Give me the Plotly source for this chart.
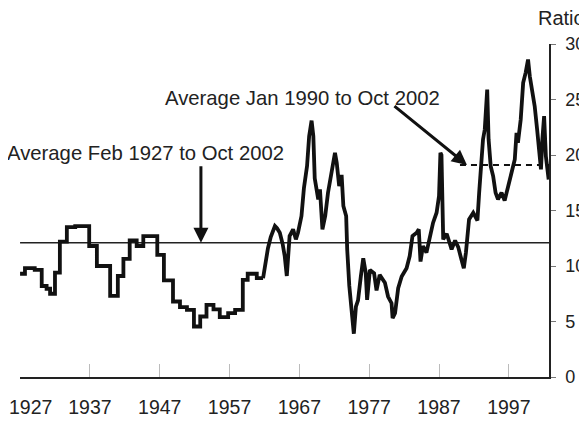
import plotly.graph_objects as go

# Early (stepped) segment: year, ratio
step_years = [1927.0, 1927.7, 1929.1, 1930.1, 1930.8, 1931.3, 1932.0, 1932.7, 1933.7, 1934.9,
              1936.9, 1938.0, 1939.9, 1941.0, 1941.8, 1942.7, 1943.7, 1944.65, 1946.65, 1947.6,
              1948.9, 1949.9, 1950.9, 1951.9, 1952.8, 1953.7, 1954.7, 1955.6, 1956.8, 1957.8,
              1958.9, 1959.6, 1960.9, 1961.8]
step_ratio = [9.3, 9.8, 9.65, 8.2, 7.95, 7.5, 9.4, 12.2, 13.5, 13.6,
              11.8, 10.0, 7.3, 9.1, 10.65, 12.3, 11.8, 12.7, 11.0, 8.7,
              6.8, 6.3, 6.05, 4.55, 5.45, 6.5, 6.1, 5.4, 5.75, 6.05,
              8.75, 9.3, 8.9, 8.9]

# Later (monthly-looking) segment: year, ratio
cont_years = [1961.8, 1962.2, 1962.5, 1962.9, 1963.5, 1963.8, 1964.2, 1964.6, 1964.9, 1965.2,
              1965.35, 1965.6, 1966.1, 1966.5, 1966.8, 1967.3, 1967.65, 1968.1, 1968.4, 1968.75,
              1969.0, 1969.2, 1969.7, 1969.95, 1970.3, 1970.7, 1971.1, 1971.6, 1972.1, 1972.35,
              1972.7, 1973.05, 1973.3, 1973.7, 1973.85, 1974.15, 1974.5, 1974.8, 1975.1, 1975.4,
              1975.8, 1976.15, 1976.5, 1976.7, 1977.1, 1977.7, 1978.05, 1978.5, 1979.25, 1979.7,
              1980.2, 1980.35, 1980.7, 1981.15, 1981.65, 1982.35, 1982.8, 1983.2, 1983.8, 1984.1,
              1984.35, 1984.7, 1985.2, 1985.7, 1986.15, 1986.65, 1987.0, 1987.2, 1987.35, 1987.6,
              1988.1, 1988.55, 1988.8, 1989.3, 1989.75, 1990.2, 1990.55, 1990.85, 1991.3, 1991.9,
              1992.5, 1992.75, 1992.95, 1993.3, 1993.55, 1993.9, 1994.1, 1994.4, 1994.75, 1995.1,
              1995.45, 1995.95, 1996.4, 1996.9, 1997.4, 1997.85, 1998.1, 1998.3, 1998.7, 1999.05,
              1999.4, 1999.75, 2000.0, 2000.4, 2000.7, 2001.05, 2001.4, 2001.6, 2001.8, 2002.05,
              2002.3, 2002.7]
cont_ratio = [8.9, 10.5, 11.6, 12.6, 13.6, 13.4, 13.0, 12.0, 10.9, 9.1,
              10.5, 12.7, 13.3, 12.4, 13.0, 14.5, 17.0, 19.0, 21.7, 23.1,
              21.7, 17.9, 16.0, 16.9, 13.3, 14.5, 16.6, 18.4, 20.2, 19.3,
              17.2, 18.2, 15.4, 14.5, 11.5, 8.2, 5.75, 3.9, 6.35, 6.9,
              9.05, 10.7, 9.4, 6.95, 9.65, 9.35, 7.8, 9.2, 8.5, 7.25,
              6.65, 5.3, 5.75, 8.0, 9.05, 9.8, 10.9, 12.7, 13.0, 13.3,
              10.4, 11.8, 11.2, 12.5, 13.9, 14.8, 16.3, 20.2, 20.0, 12.4,
              12.9, 12.0, 11.5, 12.3, 11.7, 10.6, 9.8, 11.2, 14.2, 14.8,
              14.1, 16.6, 18.4, 21.4, 22.3, 25.9, 21.4, 19.0, 18.1, 16.6,
              16.0, 16.6, 15.9, 17.2, 18.7, 19.6, 22.0, 21.1, 23.2, 26.5,
              27.4, 28.6, 27.1, 25.6, 24.4, 22.3, 20.2, 18.7, 21.4, 23.5,
              19.9, 17.8]

avg_all = 12.1          # Feb 1927 - Oct 2002
avg_recent = 19.1       # Jan 1990 - Oct 2002
avg_all_span = [1927.0, 2002.75]
avg_recent_span = [1990.0, 2002.75]

x_ticks = [1927, 1937, 1947, 1957, 1967, 1977, 1987, 1997]
x_tick_labels = [str(v) for v in x_ticks]
y_ticks = [0, 5, 10, 15, 20, 25, 30]

FONT = "Liberation Sans, Arial, Helvetica, sans-serif"
fig = go.Figure()

fig.add_trace(go.Scatter(x=avg_all_span, y=[avg_all, avg_all], mode="lines",
                         line=dict(color="#222", width=1.6), hoverinfo="skip"))
fig.add_trace(go.Scatter(x=avg_recent_span, y=[avg_recent, avg_recent], mode="lines",
                         line=dict(color="#111", width=2, dash="6px,5px"), hoverinfo="skip"))
fig.add_trace(go.Scatter(x=step_years, y=step_ratio, mode="lines", line_shape="hv",
                         line=dict(color="#111", width=3.8)))
fig.add_trace(go.Scatter(x=cont_years, y=cont_ratio, mode="lines",
                         line=dict(color="#111", width=3.8, shape="linear")))

# first label is nudged right (as in the original) so it is drawn as an annotation
tick_text = [""] + x_tick_labels[1:]

# The page body adds an 8px offset, so the figure is 8px smaller and margins shifted.
fig.update_layout(
    width=579, height=413,
    margin=dict(l=12, r=38, t=36, b=44),
    paper_bgcolor="white", plot_bgcolor="white",
    showlegend=False,
    font=dict(family=FONT, size=18, color="#222"),
    xaxis=dict(range=[1926.99, 2002.75], tickvals=x_ticks, ticktext=tick_text,
               showgrid=False, zeroline=False, showline=True, linecolor="#222", linewidth=1.5,
               ticks="inside", ticklen=13, tickcolor="#bbb", tickwidth=1, automargin=False,
               ticklabelstandoff=12, ticklabeloverflow="allow",
               tickfont=dict(size=19.5, family=FONT, color="#222")),
    yaxis=dict(range=[0, 30], tickvals=y_ticks, side="right", automargin=False,
               showgrid=False, zeroline=False, showline=True, linecolor="#222", linewidth=1.5,
               ticks="outside", ticklen=5, tickcolor="#777", ticklabelstandoff=6,
               ticklabeloverflow="allow",
               tickfont=dict(size=18, family=FONT, color="#222")),
    annotations=[
        dict(text=x_tick_labels[0], xref="paper", yref="paper",
             x=-0.0246, y=-0.09, xanchor="left", yanchor="middle", showarrow=False,
             font=dict(size=19.5, family=FONT, color="#222")),
        dict(text="Average Feb 1927 to Oct 2002", xref="paper", yref="paper",
             x=-0.0283, y=0.674, xanchor="left", yanchor="middle", showarrow=False,
             font=dict(size=20.3, family=FONT, color="#222")),
        dict(text="Average Jan 1990 to Oct 2002", xref="paper", yref="paper",
             x=0.270, y=0.839, xanchor="left", yanchor="middle", showarrow=False,
             font=dict(size=20.3, family=FONT, color="#222")),
        dict(text="Ratio", xref="paper", yref="paper",
             x=0.975, y=1.078, xanchor="left", yanchor="middle", showarrow=False,
             font=dict(size=20, family=FONT, color="#222")),
        dict(text="", x=1952.9, y=avg_all, xref="x", yref="y", ax=0, ay=-78,
             showarrow=True, arrowhead=2, arrowsize=1, arrowwidth=3, arrowcolor="#111",
             standoff=0),
        dict(text="", x=1991.0, y=avg_recent, xref="x", yref="y", ax=-74, ay=-60,
             showarrow=True, arrowhead=2, arrowsize=1, arrowwidth=3, arrowcolor="#111",
             standoff=0),
    ],
)

fig.write_html("out.html")
